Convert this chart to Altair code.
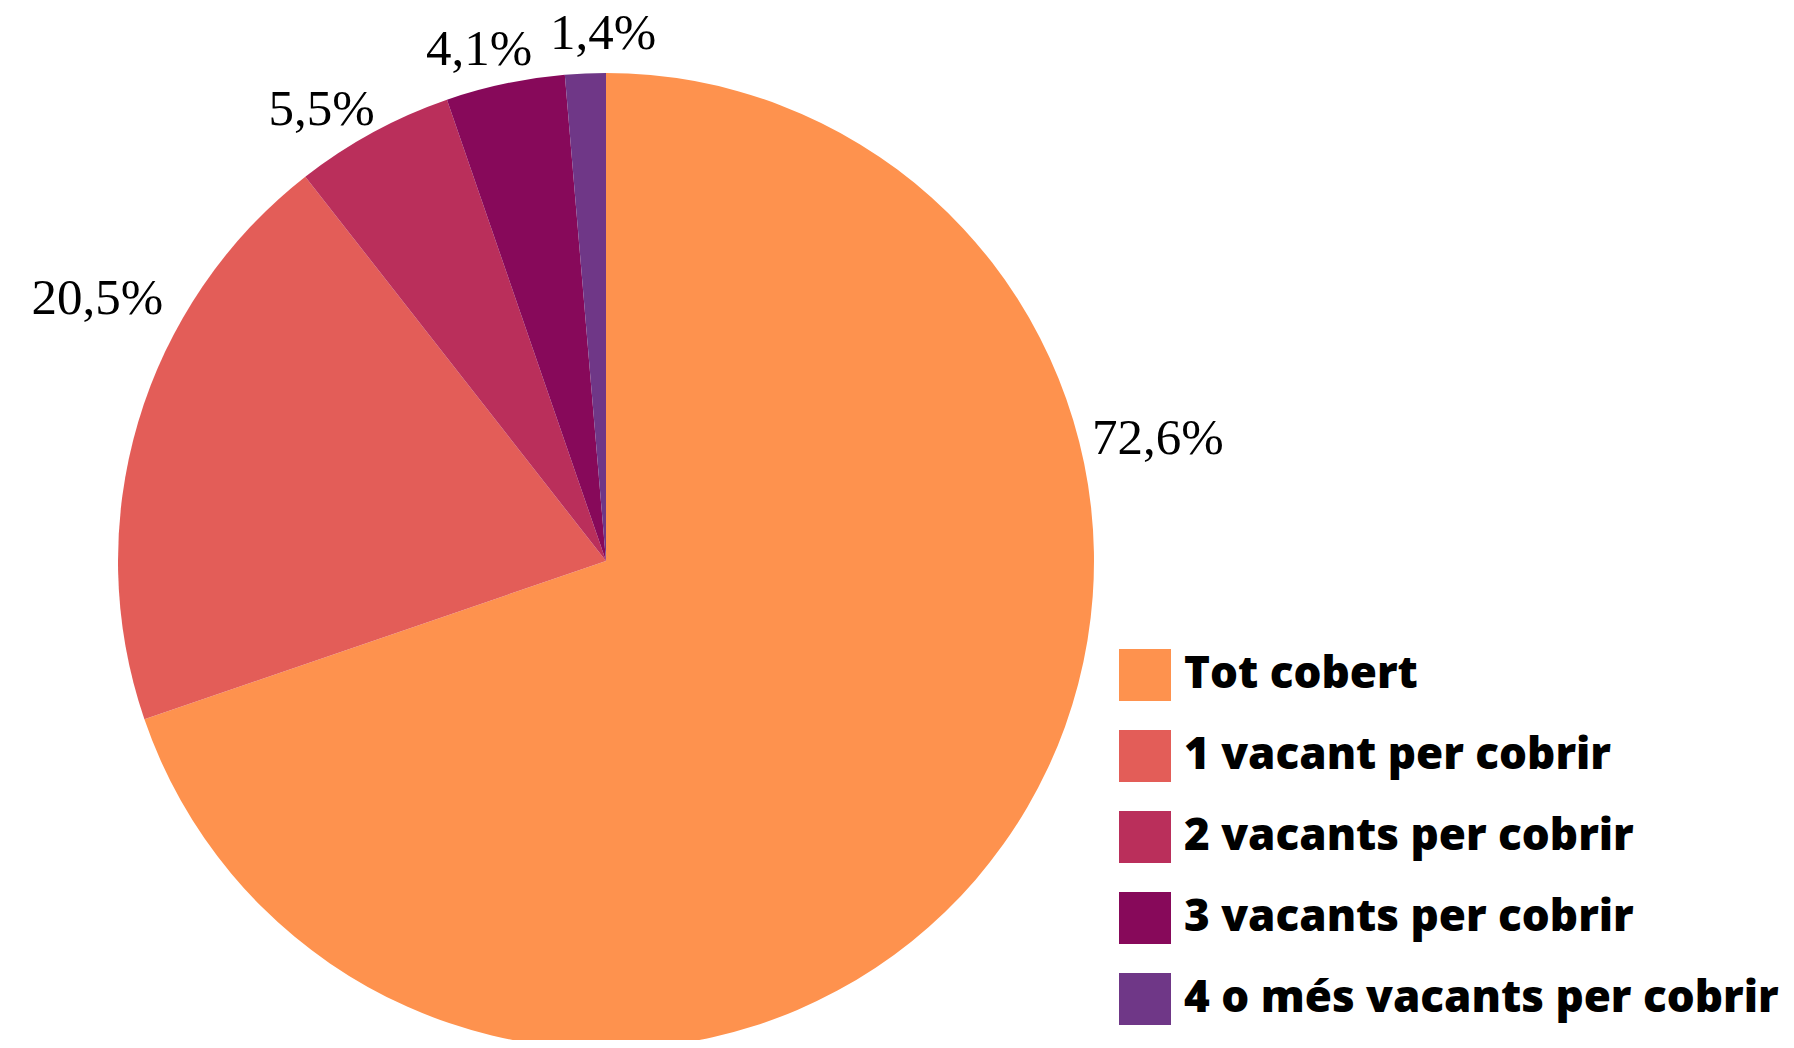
import altair as alt
import pandas as pd

categories = ["Tot cobert", "1 vacant per cobrir", "2 vacants per cobrir",
              "3 vacants per cobrir", "4 o més vacants per cobrir"]
values = [72.6, 20.5, 5.5, 4.1, 1.4]
labels = ["72,6%", "20,5%", "5,5%", "4,1%", "1,4%"]
colors = ["#fe924e", "#e35d58", "#ba2f5b", "#87095a", "#6f3787"]

df = pd.DataFrame({"cat": categories, "value": values, "label": labels,
                   "order": list(range(len(values)))})

CX, CY, R = 598, 553, 488

pie = alt.Chart(df).mark_arc(radius=R).encode(
    theta=alt.Theta("value:Q", stack=True),
    color=alt.Color("cat:N", scale=alt.Scale(domain=categories, range=colors),
                    legend=alt.Legend(title=None, orient="none", legendX=1111, legendY=641,
                                      symbolType="square", symbolSize=2704,
                                      symbolStrokeWidth=0, labelFont="Open Sans",
                                      labelFontWeight=800, labelFontSize=44,
                                      labelColor="#000000", rowPadding=29,
                                      labelOffset=13, labelLimit=900)),
    order=alt.Order("order:Q"),
    x=alt.value(CX), y=alt.value(CY),
)

tbase = alt.Chart(df).transform_window(
    cum="sum(value)", sort=[alt.SortField("order")], frame=[None, 0]
).transform_calculate(mid="datum.cum - datum.value / 2")

def text_layer(idx, radius, offset):
    return tbase.transform_filter(f"datum.order == {idx}").mark_text(
        radius=radius, thetaOffset=offset, font="Liberation Serif",
        fontSize=51, color="#000000", align="center", baseline="middle"
    ).encode(theta=alt.Theta("mid:Q", stack=False), text="label:N",
             x=alt.value(CX), y=alt.value(CY))

layers = [
    text_layer(0, 565, -0.837),
    text_layer(1, 572, 0.187),
    text_layer(2, 533, -0.065),
    text_layer(3, 527, -0.035),
    text_layer(4, 527, 0.037),
]

chart = alt.layer(pie, *layers).properties(
    width=1778, height=1032, autosize=alt.AutoSizeParams(type="none"), padding=0,
    background="white"
).configure_view(stroke=None)

chart.save("out.html", embed_options={"renderer": "svg", "actions": False})
